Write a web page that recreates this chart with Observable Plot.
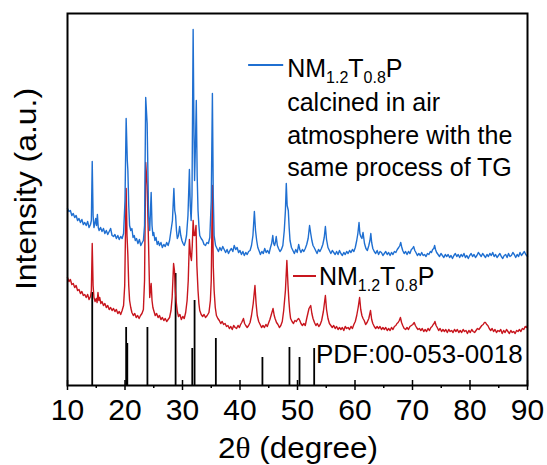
<!DOCTYPE html>
<html>
<head>
<meta charset="utf-8">
<script src="https://cdn.jsdelivr.net/npm/d3@7"></script>
<script src="https://cdn.jsdelivr.net/npm/@observablehq/plot@0.6"></script>
<style>
  html, body { margin: 0; padding: 0; background: #fff; }
  svg text { font-family: "Liberation Sans", Arial, sans-serif; }
</style>
</head>
<body>
<div id="chart"></div>
<script>
// ---- Data ----
const xMajorTicks = [10, 20, 30, 40, 50, 60, 70, 80, 90];
const xMinorTicks = [15, 25, 35, 45, 55, 65, 75, 85];

// Blue: NM1.2T0.8P calcined in air atmosphere (2θ, intensity a.u.)
const blueSeries = [
  [10,177],[10.25,174],[10.5,175],[10.75,170],[11,172],[11.25,168],[11.5,170],[11.75,165],[12,167],[12.25,163],
  [12.5,166],[12.75,161],[13,163],[13.25,160],[13.5,164],[13.75,158],[14,161],[14.15,165],[14.3,224],[14.45,170],
  [14.6,158],[14.75,162],[14.9,167],[15.05,160],[15.2,171],[15.35,158],[15.5,155],[15.75,158],[16,154],[16.25,157],
  [16.5,152],[16.75,155],[17,151],[17.25,154],[17.5,157],[17.75,150],[18,149],[18.25,151],[18.5,147],[18.75,150],
  [19,146],[19.25,149],[19.5,147],[19.75,152],[20,185],[20.2,267],[20.4,225],[20.5,215],[20.65,180],[20.8,160],
  [21,155],[21.2,157],[21.4,148],[21.6,150],[21.8,145],[22,147],[22.25,142],[22.5,146],[22.75,140],[23,143],
  [23.2,145],[23.4,160],[23.6,288],[23.85,262],[24.1,170],[24.3,155],[24.55,193],[24.7,160],[24.85,150],[25,153],
  [25.2,145],[25.4,148],[25.6,141],[25.8,144],[26,140],[26.25,143],[26.5,138],[26.75,141],[27,139],[27.25,143],
  [27.5,140],[27.75,145],[28,155],[28.25,165],[28.5,197],[28.65,175],[28.8,170],[28.95,155],[29.1,147],[29.3,150],
  [29.5,159],[29.7,150],[29.9,145],[30.1,142],[30.3,140],[30.5,144],[30.7,150],[30.95,170],[31.2,216],[31.35,180],
  [31.5,165],[31.65,190],[31.85,356],[32,250],[32.1,205],[32.25,240],[32.4,285],[32.55,210],[32.7,175],[32.85,160],
  [33,150],[33.25,147],[33.5,145],[33.75,141],[34,140],[34.25,143],[34.5,142],[34.75,148],[35,185],[35.2,292],
  [35.35,190],[35.5,150],[35.75,140],
  [36,137],[36.25,134],[36.5,138],[36.75,135],[37,139],[37.25,136],[37.5,133],[37.75,136],[38,132],[38.25,135],
  [38.5,137],[38.75,134],[39,140],[39.25,136],[39.5,138],[39.75,133],[40,135],[40.25,131],[40.5,134],[40.75,130],
  [41,133],[41.25,131],[41.5,134],[41.75,135],[42,140],[42.25,150],[42.5,174],[42.7,155],[42.9,145],[43.1,138],
  [43.3,135],[43.55,131],[43.8,134],[44.05,132],[44.3,137],[44.55,133],[44.8,135],[45.05,132],[45.3,138],[45.5,142],
  [45.7,150],[45.85,142],[46,140],[46.15,143],[46.3,149],[46.5,140],[46.7,137],[46.95,134],[47.2,136],[47.45,140],
  [47.7,155],[47.9,175],[48.05,202],[48.2,180],[48.4,175],[48.55,158],[48.7,145],[48.95,138],[49.2,135],[49.45,132],
  [49.7,136],[49.95,133],[50.2,141],[50.4,136],[50.6,133],[50.85,136],[51.1,134],[51.35,137],[51.6,141],[51.85,147],
  [52.1,160],[52.3,152],[52.5,145],[52.7,140],[52.9,138],[53.15,135],[53.4,132],[53.65,136],[53.9,134],[54.15,137],
  [54.4,141],[54.65,148],[54.85,159],[55.05,146],[55.3,138],[55.55,135],[55.8,132],[56.05,135],[56.3,133],[56.55,131],
  [56.8,134],[57.05,131],[57.3,135],[57.55,132],[57.8,130],[58.05,133],[58.3,131],[58.55,134],[58.8,132],[59.05,135],
  [59.3,133],[59.55,136],[59.8,134],[60.05,138],[60.3,145],[60.5,152],[60.7,163],[60.85,152],[61,149],[61.2,147],
  [61.4,153],[61.65,142],[61.9,137],[62.15,135],[62.4,140],[62.6,145],[62.75,152],[62.9,143],[63.1,137],[63.35,134],
  [63.6,132],[63.85,135],[64.1,131],[64.35,134],[64.6,133],[64.85,130],[65.1,132],[65.35,134],[65.6,131],[65.85,133],
  [66.1,130],[66.35,133],[66.6,131],[66.85,134],[67.1,133],[67.35,136],[67.6,138],[67.8,140],[67.95,143],[68.1,139],
  [68.3,135],[68.55,132],[68.8,134],[69.05,131],[69.3,134],[69.55,132],[69.8,136],[70,137],[70.2,139],[70.4,135],
  [70.6,133],[70.85,130],[71.1,132],[71.35,130],[71.6,133],[71.85,130],[72.1,131],[72.35,129],[72.6,132],[72.85,131],
  [73.1,134],[73.3,133],[73.5,136],[73.7,137],[73.85,140],[74,136],[74.2,133],[74.45,131],[74.7,129],[74.95,132],
  [75.2,130],[75.45,128],[75.7,131],[75.95,129],[76.2,131],[76.45,128],[76.7,130],[76.95,127],[77.2,130],[77.45,132],
  [77.7,129],[77.95,131],[78.2,128],[78.45,131],[78.7,129],[78.95,132],[79.2,128],[79.45,130],[79.7,127],[79.95,130],
  [80.2,132],[80.45,129],[80.7,131],[80.95,128],[81.2,130],[81.45,133],[81.7,131],[81.95,129],[82.2,132],[82.45,130],
  [82.7,128],[82.95,131],[83.2,129],[83.45,132],[83.7,130],[83.95,133],[84.2,129],[84.45,131],[84.7,128],[84.95,130],
  [85.2,132],[85.45,129],[85.7,127],[85.95,130],[86.2,131],[86.45,128],[86.7,132],[86.95,129],[87.2,130],[87.45,133],
  [87.7,131],[87.95,128],[88.2,131],[88.45,129],[88.7,133],[88.95,130],[89.2,132],[89.45,134],[89.7,131],[90,129]
];

// Red: NM1.2T0.8P
const redSeries = [
  [10,108],[10.25,104],[10.5,106],[10.75,101],[11,102],[11.25,98],[11.5,100],[11.75,95],[12,96],[12.25,92],[12.5,94],
  [12.75,90],[13,91],[13.25,88],[13.5,91],[13.75,86],[14,89],[14.15,95],[14.3,142],[14.45,100],[14.6,88],[14.8,84],
  [15,87],[15.15,83],[15.3,93],[15.45,85],[15.6,88],[15.8,82],[16,84],[16.25,80],[16.5,82],[16.75,78],[17,80],
  [17.25,76],[17.5,78],[17.75,75],[18,77],[18.25,74],[18.5,76],[18.75,72],[19,74],[19.25,71],[19.5,75],[19.75,80],
  [19.95,100],[20.2,197],[20.35,150],[20.5,130],[20.65,100],[20.8,85],[21,78],[21.2,73],[21.45,70],[21.7,72],
  [21.95,68],[22.2,70],[22.45,67],[22.7,70],[22.95,72],[23.2,76],[23.4,105],[23.6,223],[23.85,200],[24.1,140],
  [24.3,88],[24.55,102],[24.7,85],[24.85,78],[25.05,74],[25.25,70],[25.5,72],[25.75,68],[26,70],[26.25,66],[26.5,68],
  [26.75,65],[27,67],[27.25,64],[27.5,66],[27.75,68],[28,75],[28.2,88],[28.45,122],[28.6,115],[28.75,95],[28.9,84],
  [29.1,74],[29.3,69],[29.55,71],[29.8,66],[30.05,69],[30.3,67],[30.55,73],[30.8,85],[31,105],[31.2,146],[31.4,130],
  [31.55,125],[31.7,140],[31.85,165],[32,150],[32.15,150],[32.35,160],[32.5,120],[32.7,95],[32.85,82],[33,75],
  [33.25,71],[33.5,69],[33.75,71],[34,68],[34.3,70],[34.6,73],[34.85,85],[35,105],[35.2,200],[35.35,120],[35.5,95],
  [35.7,78],[35.9,70],[36.15,67],[36.4,65],[36.65,62],[36.9,64],[37.15,61],[37.4,62],[37.65,59],[37.9,60],[38.15,57],
  [38.4,59],[38.65,56],[38.9,60],[39.15,58],[39.4,57],[39.65,60],[39.9,58],[40.1,61],[40.3,63],[40.6,67],[40.8,62],
  [41,60],[41.25,58],[41.5,60],[41.75,63],[42,70],[42.3,82],[42.6,100],[42.8,82],[43,70],[43.25,64],[43.5,61],
  [43.75,58],[44,60],[44.25,58],[44.5,61],[44.75,59],[45,63],[45.2,66],[45.4,70],[45.75,77],[45.95,70],[46.1,67],
  [46.35,63],[46.6,61],[46.85,58],[47.1,60],[47.35,64],[47.6,75],[47.9,95],[48.15,125],[48.35,100],[48.5,85],
  [48.65,74],[48.8,67],[49.05,64],[49.3,62],[49.55,65],[49.8,64],[50,66],[50.2,67],[50.4,65],[50.6,62],[50.85,60],
  [51.1,62],[51.35,60],[51.6,67],[51.8,72],[52,77],[52.3,80],[52.5,72],[52.7,67],[52.95,63],[53.2,60],[53.45,62],
  [53.7,59],[53.95,61],[54.2,65],[54.5,74],[54.85,90],[55.05,76],[55.3,67],[55.55,62],[55.8,60],[56.05,58],[56.3,60],
  [56.55,57],[56.8,59],[57.05,56],[57.3,58],[57.55,56],[57.8,58],[58.05,55],[58.3,59],[58.55,57],[58.8,58],[59.05,56],
  [59.3,59],[59.55,57],[59.8,61],[60.05,64],[60.3,70],[60.55,78],[60.8,88],[61,76],[61.2,70],[61.4,67],[61.6,65],
  [61.85,61],[62.1,63],[62.4,67],[62.7,75],[62.9,66],[63.1,62],[63.35,59],[63.6,57],[63.85,59],[64.1,57],[64.35,59],
  [64.6,56],[64.85,58],[65.1,56],[65.35,58],[65.6,55],[65.85,57],[66.1,55],[66.35,58],[66.6,56],[66.85,59],[67.1,60],
  [67.3,62],[67.5,63],[67.7,65],[67.9,68],[68.1,63],[68.3,60],[68.55,57],[68.8,56],[69.05,58],[69.3,56],[69.55,59],
  [69.8,60],[70.05,61],[70.3,63],[70.5,60],[70.7,58],[70.95,56],[71.2,57],[71.45,55],[71.7,57],[71.95,54],[72.2,56],
  [72.45,54],[72.7,57],[72.95,55],[73.2,58],[73.4,59],[73.6,61],[73.75,62],[73.9,64],[74.1,60],[74.3,58],[74.55,55],
  [74.8,57],[75.05,54],[75.3,56],[75.55,54],[75.8,56],[76.05,53],[76.3,56],[76.55,54],[76.8,55],[77.05,53],[77.3,56],
  [77.55,54],[77.8,56],[78.05,53],[78.3,55],[78.55,53],[78.8,56],[79.05,54],[79.3,55],[79.55,52],[79.8,55],[80.05,53],
  [80.3,56],[80.55,54],[80.8,53],[81.05,55],[81.3,57],[81.55,56],[81.8,58],[82.05,60],[82.3,61],[82.5,63],[82.7,63],
  [82.9,61],[83.1,60],[83.35,57],[83.6,55],[83.85,57],[84.1,54],[84.35,56],[84.6,53],[84.85,55],[85.1,54],[85.35,56],
  [85.6,52],[85.85,55],[86.1,53],[86.35,56],[86.6,54],[86.85,52],[87.1,55],[87.35,53],[87.6,54],[87.85,52],[88.1,55],
  [88.35,54],[88.6,56],[88.85,54],[89.1,57],[89.35,56],[89.6,59],[89.8,58],[90,60]
];

// Reference pattern PDF:00-053-0018 (2θ, relative stick height)
const pdfPeaks = [
  [14.3,93],[20.2,58],[20.4,42],[23.9,58],[28.8,112],[31.7,37],[32.1,85],[35.8,47],[43.9,28],[48.6,38],[50.35,28],[52.9,37]
];

const xLabel = ["2", "θ", " (degree)"];
const yLabel = "Intensity (a.u.)";
const blueLegend = ["NM", "1.2", "T", "0.8", "P"];
const blueLegendNote = ["calcined in air", "atmosphere with the", "same process of TG"];
const redLegend = ["NM", "1.2", "T", "0.8", "P"];
const pdfLabel = "PDF:00-053-0018";

const BLUE = "#1f6fd1";
const RED = "#c8161e";

const chart = Plot.plot({
  width: 547,
  height: 465,
  marginLeft: 67,
  marginRight: 20,
  marginTop: 13,
  marginBottom: 80,
  x: { domain: [10, 90] },
  y: { domain: [0, 372], axis: null },
  style: { fontFamily: "Liberation Sans, Arial, sans-serif", background: "white", color: "black", overflow: "visible" },
  marks: [
    Plot.ruleX(pdfPeaks, { x: d => d[0], y1: 0, y2: d => d[1], stroke: "black", strokeWidth: 1.8 }),
    Plot.line(redSeries, { x: d => d[0], y: d => d[1], stroke: RED, strokeWidth: 1.4 }),
    Plot.line(blueSeries, { x: d => d[0], y: d => d[1], stroke: BLUE, strokeWidth: 1.4 }),
    Plot.ruleX(xMajorTicks, { x: d => d, y1: -5, y2: 5, stroke: "black", strokeWidth: 1.5 }),
    Plot.ruleX(xMinorTicks, { x: d => d, y1: -3, y2: 0, stroke: "black", strokeWidth: 1.5 }),
    Plot.axisX({ ticks: xMajorTicks, tickSize: 0, tickPadding: 13, fontSize: 30, label: null }),
    Plot.frame({ stroke: "black", strokeWidth: 2 })
  ]
});

document.getElementById("chart").appendChild(chart);

const svg = d3.select(chart);
const sx = chart.scale("x");
const sy = chart.scale("y");

// x-axis title
const xt = svg.append("text")
  .attr("x", (sx.apply(10) + sx.apply(90)) / 2 + 1)
  .attr("y", 458)
  .attr("text-anchor", "middle")
  .attr("font-size", 29)
  .attr("textLength", 160)
  .attr("lengthAdjust", "spacingAndGlyphs")
  .attr("fill", "black");
xt.append("tspan").text(xLabel[0]);
xt.append("tspan").attr("font-family", "'Liberation Serif', 'DejaVu Serif', serif").text(xLabel[1]);
xt.append("tspan").text(xLabel[2]);

// y-axis title
svg.append("text")
  .attr("transform", `translate(36,${(sy.apply(0) + sy.apply(372)) / 2 - 10}) rotate(-90)`)
  .attr("text-anchor", "middle")
  .attr("font-size", 29)
  .attr("textLength", 202)
  .attr("lengthAdjust", "spacingAndGlyphs")
  .attr("fill", "black")
  .text(yLabel);

function formula(parent, x, y, parts, size) {
  const t = parent.append("text").attr("x", x).attr("y", y).attr("font-size", size)
    .attr("text-anchor", "start").attr("fill", "black");
  parts.forEach((p, i) => {
    const sub = i % 2 === 1;
    const ts = t.append("tspan").text(p);
    if (sub) ts.attr("font-size", size * 0.64).attr("dy", 6);
    else if (i > 0) ts.attr("dy", -6);
  });
  return t;
}

// Blue legend
const bx0 = sx.apply(41.5), bx1 = sx.apply(47.6);
svg.append("line").attr("x1", bx0).attr("x2", bx1).attr("y1", 65).attr("y2", 65)
  .attr("stroke", BLUE).attr("stroke-width", 2);
formula(svg, bx1 + 4, 77, blueLegend, 25);
blueLegendNote.forEach((s, i) => {
  svg.append("text").attr("x", bx1 + 4).attr("y", [111, 144, 176][i])
    .attr("text-anchor", "start")
    .attr("font-size", 25).attr("fill", "black").text(s);
});

// Red legend
const rx0 = sx.apply(49.3), rx1 = sx.apply(53.3);
svg.append("line").attr("x1", rx0).attr("x2", rx1).attr("y1", 276).attr("y2", 276)
  .attr("stroke", RED).attr("stroke-width", 2);
formula(svg, rx1 + 3, 285, redLegend, 25);

// PDF label
svg.append("text").attr("x", sx.apply(53.3)).attr("y", 363)
  .attr("text-anchor", "start")
  .attr("font-size", 26).attr("fill", "black").text(pdfLabel);
</script>
</body>
</html>
